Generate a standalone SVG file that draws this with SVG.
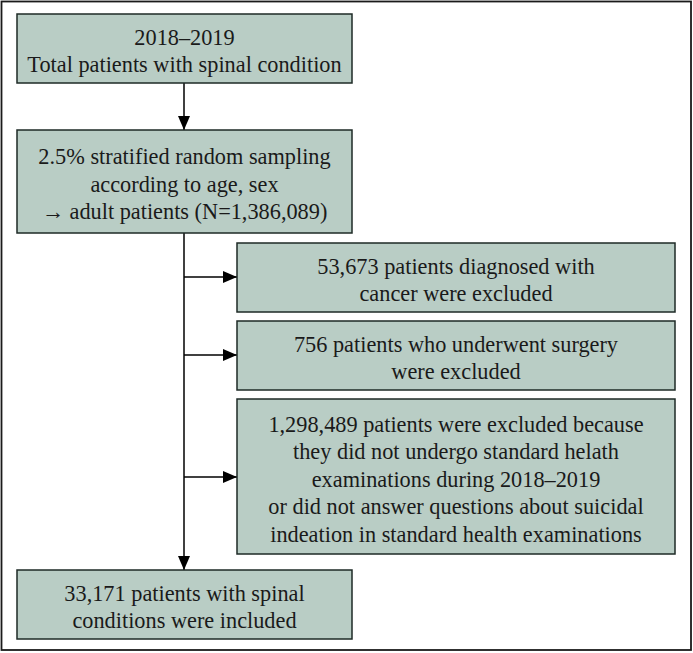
<svg xmlns="http://www.w3.org/2000/svg" width="693" height="653" viewBox="0 0 693 653">
<defs>
<style>
.box{fill:#b9cdc5;stroke:#1e2a26;stroke-width:1.5}
.t{font-family:"Liberation Serif","Times New Roman",serif;font-size:22.3px;fill:#1a1a1a;text-anchor:middle}
.ln{stroke:#000;stroke-width:1.5;fill:none}
</style>
<marker id="ah" viewBox="0 0 14 12" refX="14" refY="6" markerWidth="14" markerHeight="12" markerUnits="userSpaceOnUse" orient="auto">
<path d="M0,0 L14,6 L0,12 Z" fill="#000"/>
</marker>
</defs>
<rect x="0" y="0" width="693" height="653" fill="#fff"/>
<rect x="1.5" y="1.5" width="689.5" height="648.5" fill="none" stroke="#1a1a1a" stroke-width="1.8"/>
<g id="connectors">
<line class="ln" x1="184" y1="83" x2="184" y2="130" marker-end="url(#ah)"/>
<line class="ln" x1="184" y1="233" x2="184" y2="570" marker-end="url(#ah)"/>
<line class="ln" x1="184" y1="277" x2="237" y2="277" marker-end="url(#ah)"/>
<line class="ln" x1="184" y1="355" x2="237" y2="355" marker-end="url(#ah)"/>
<line class="ln" x1="184" y1="477" x2="237" y2="477" marker-end="url(#ah)"/>
</g>
<g id="n1">
<rect class="box" x="17" y="14" width="335" height="69"/>
<text class="t" x="184.5" y="45">2018–2019</text>
<text class="t" x="184.5" y="72">Total patients with spinal condition</text>
</g>
<g id="n2">
<rect class="box" x="17" y="130" width="335" height="103"/>
<text class="t" x="184.5" y="164">2.5% stratified random sampling</text>
<text class="t" x="184.5" y="192">according to age, sex</text>
<text class="t" x="184.5" y="219">→ adult patients (N=1,386,089)</text>
</g>
<g id="n3">
<rect class="box" x="237" y="243" width="438" height="69"/>
<text class="t" x="456" y="274">53,673 patients diagnosed with</text>
<text class="t" x="456" y="301">cancer were excluded</text>
</g>
<g id="n4">
<rect class="box" x="237" y="321" width="438" height="69"/>
<text class="t" x="456" y="352">756 patients who underwent surgery</text>
<text class="t" x="456" y="379">were excluded</text>
</g>
<g id="n5">
<rect class="box" x="237" y="399" width="438" height="155"/>
<text class="t" x="456" y="432">1,298,489 patients were excluded because</text>
<text class="t" x="456" y="459">they did not undergo standard helath</text>
<text class="t" x="456" y="487">examinations during 2018–2019</text>
<text class="t" x="456" y="514">or did not answer questions about suicidal</text>
<text class="t" x="456" y="542">indeation in standard health examinations</text>
</g>
<g id="n6">
<rect class="box" x="17" y="570" width="335" height="69"/>
<text class="t" x="184.5" y="601">33,171 patients with spinal</text>
<text class="t" x="184.5" y="628">conditions were included</text>
</g>
</svg>
